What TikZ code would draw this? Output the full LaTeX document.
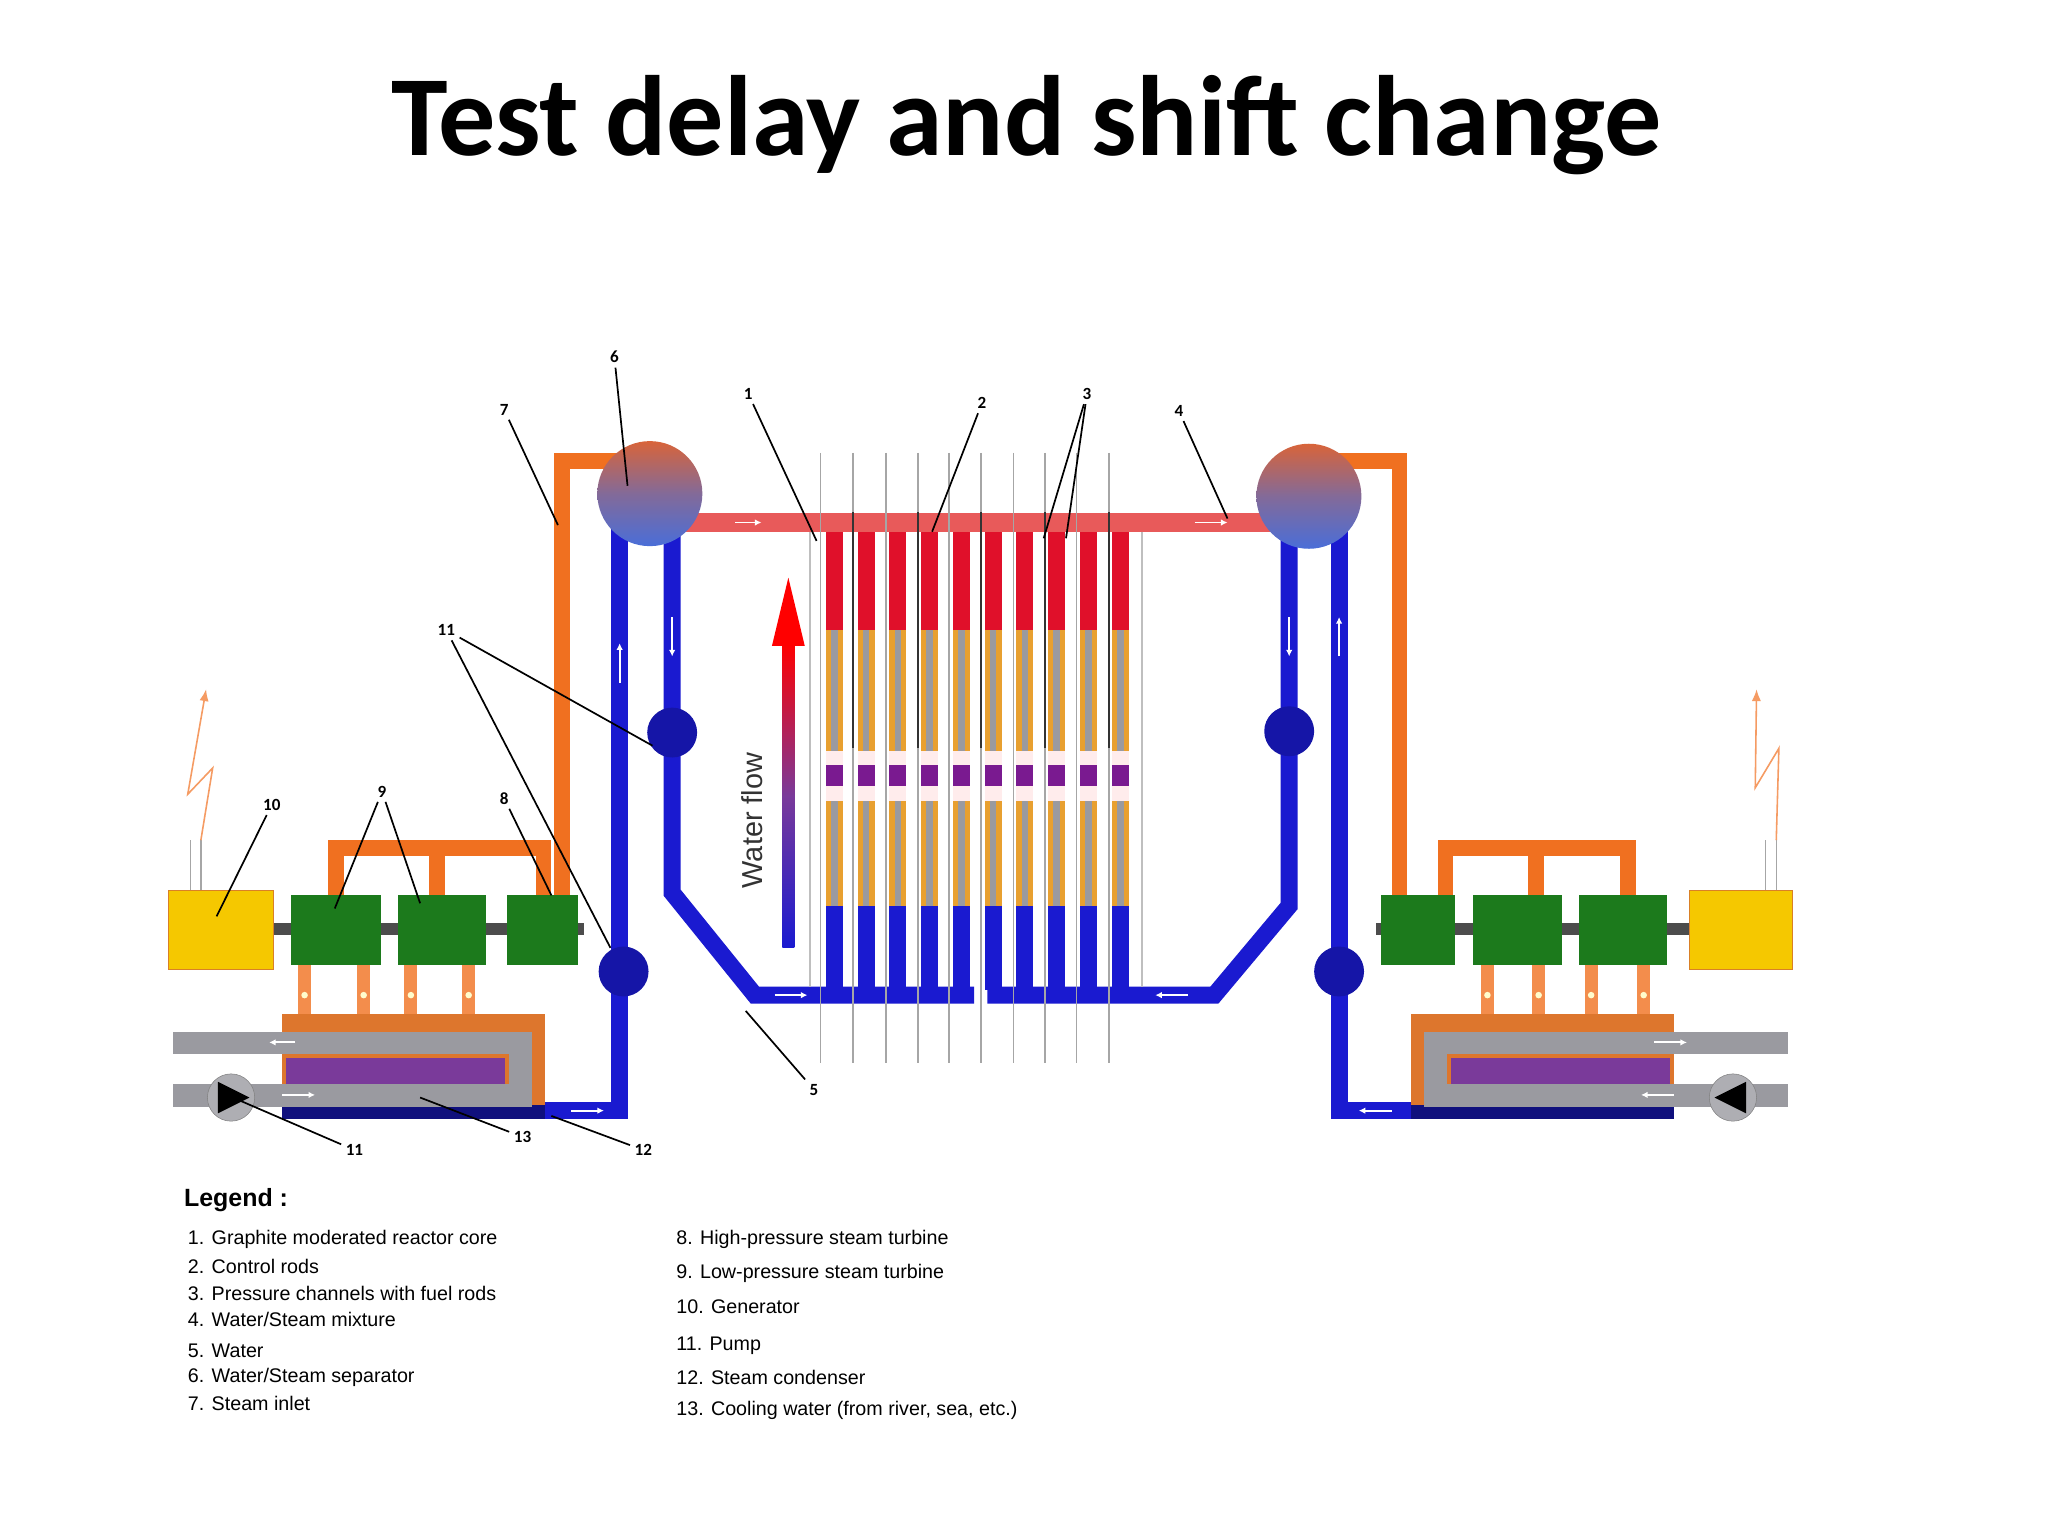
\documentclass[tikz,border=0pt]{standalone}
\usepackage{fontspec}
\setmainfont{Carlito}
\newfontfamily\lgd{Liberation Sans}
\usetikzlibrary{arrows.meta}
\definecolor{pblue}{HTML}{1A1AD0}
\definecolor{porange}{HTML}{F07020}
\definecolor{pred}{HTML}{E85A5A}
\definecolor{cred}{HTML}{E0102A}
\definecolor{cyel}{HTML}{E8A030}
\definecolor{cpur}{HTML}{7A1A90}
\definecolor{tgreen}{HTML}{1C7A1C}
\definecolor{gyel}{HTML}{F5C800}
\definecolor{cgrey}{HTML}{9A9AA0}
\definecolor{cpurple}{HTML}{7A3A9A}
\definecolor{drumtop}{HTML}{D8643A}
\definecolor{drumbot}{HTML}{4A6ED8}
\tikzset{
 bluepipe/.style={pblue,line width=13pt},
 orpipe/.style={porange,line width=12pt},
 lbl/.style={font=\bfseries\fontsize{13}{13}\selectfont},
 ll/.style={black,line width=1.3pt},
 turb/.style={fill=tgreen,draw=none},
 legtxt/.style={font=\lgd\fontsize{15}{15}\selectfont,anchor=west,inner sep=0},
 flow/.style={white,line width=1.5pt,-{Latex[length=5pt,width=5pt]}},
}
\begin{document}
\begin{tikzpicture}[x=1pt,y=-1pt]
\useasboundingbox[fill=white] (0,0) rectangle (1560,1170);
\node[font=\bfseries\fontsize{87}{87}\selectfont] (title) at (782,95) {Test delay and shift change};

% ---------- steam pipes (orange)
\draw[orpipe] (470,351) -- (428,351) -- (428,695);
\draw[orpipe] (1020,351) -- (1066,351) -- (1066,695);
\draw[orpipe] (256,695) -- (256,646) -- (414,646) -- (414,690);
\draw[orpipe] (333,646) -- (333,690);
\draw[orpipe] (1101,695) -- (1101,646) -- (1240,646) -- (1240,690);
\draw[orpipe] (1170,646) -- (1170,690);
% legs to condenser
\foreach \x in {232,277,313,357,1133,1172,1212,1252}
  \draw[porange!80,line width=10pt] (\x,735) -- (\x,776);
\foreach \x in {232,277,313,357,1133,1172,1212,1252}
  \fill[white!80!yellow] (\x,758) circle (2.5);

% ---------- top red pipe
\draw[pred,line width=14pt] (520,398) -- (975,398);
\draw[flow] (560,398) -- (580,398);
\draw[flow] (910,398) -- (935,398);

% ---------- blue pipes
\draw[bluepipe] (215,846) -- (472,846) -- (472,400);
\draw[bluepipe] (512,400) -- (512,680) -- (575,758) -- (742,758);
\draw[bluepipe] (752,758) -- (925,758) -- (982,690) -- (982,400);
\draw[bluepipe] (1078,846) -- (1020,846) -- (1020,400);
\draw[flow] (472,520) -- (472,490);
\draw[flow] (512,470) -- (512,500);
\draw[flow] (590,758) -- (615,758);
\draw[flow] (905,758) -- (880,758);
\draw[flow] (982,470) -- (982,500);
\draw[flow] (1020,500) -- (1020,470);
\draw[flow] (435,846) -- (460,846);
\draw[flow] (1060,846) -- (1035,846);
% pumps
\foreach \p in {(512,558),(475,740),(982,557),(1020,740)}
  \fill[pblue!80!black] \p circle (19);

% ---------- separator drums
\foreach \c in {(495,376),(997,378)}{
  \shade[top color=drumtop, bottom color=drumbot, middle color=drumbot!60!drumtop, draw=none] \c circle (40);
}
\node (sepL) at (495,376) {};
\node (sepR) at (997,378) {};

% ---------- core
\draw[gray!50,line width=1.5pt] (617,405) -- (617,752);
\draw[gray!50,line width=1.5pt] (870,405) -- (870,752);
\foreach \i in {0,...,9}{
  \pgfmathsetmacro{\x}{629+24.2*\i}
  \fill[cred] (\x,405) rectangle ++(13,75);
  \fill[cyel] (\x,480) rectangle ++(13,92);
  \fill[cgrey] (\x+4,480) rectangle ++(5,92);
  \fill[pink!30] (\x,572) rectangle ++(13,38);
  \fill[cpur] (\x,583) rectangle ++(13,16);
  \fill[cyel] (\x,610) rectangle ++(13,80);
  \fill[cgrey] (\x+4,610) rectangle ++(5,80);
  \fill[pblue] (\x,690) rectangle ++(13,64);
}
\foreach \x [count=\k] in {625,650,675,699,723,747,772,796,820,845}{
  \ifodd\k
    \draw[gray!70,line width=1.3pt] (\x,345) -- (\x,810);
  \else
    \draw[gray!70,line width=1.3pt] (\x,345) -- (\x,810);
    \draw[black!80,line width=1.3pt] (\x,390) -- (\x,570);
  \fi
}
% water flow arrow
\shade[bottom color=pblue, top color=red, middle color=cpurple] (596,490) rectangle (605,722);
\fill[red] (588,492) -- (613,492) -- (600.5,440) -- cycle;
\node[rotate=90,font=\lgd\fontsize{22}{22}\selectfont,text=black!80] (wf) at (573,625) {Water flow};

% ---------- turbines and generators
\fill[black!70] (205,703) rectangle (445,712);
\fill[black!70] (1048,703) rectangle (1290,712);
\fill[turb] (222,682) rectangle (290,735);
\fill[turb] (303,682) rectangle (370,735);
\fill[turb] (386,682) rectangle (440,735);
\fill[turb] (1052,682) rectangle (1108,735);
\fill[turb] (1122,682) rectangle (1190,735);
\fill[turb] (1203,682) rectangle (1270,735);
\fill[gyel,draw=orange!70!gray] (128,678) rectangle (208,738);
\fill[gyel,draw=orange!70!gray] (1287,678) rectangle (1365,738);
% antennas
\draw[gray!70,line width=1pt] (145,678) -- (145,640) (153,678) -- (153,640);
\draw[porange!70,line width=1.2pt,-{Latex[length=9pt,width=7pt]}] (153,640) -- (162,585) -- (143,605) -- (157,525);
\draw[gray!70,line width=1pt] (1345,678) -- (1345,640) (1353,678) -- (1353,640);
\draw[porange!70,line width=1.2pt,-{Latex[length=9pt,width=7pt]}] (1353,640) -- (1355,570) -- (1337,600) -- (1338,525);

% ---------- condensers
\fill[porange!60!brown] (215,772) rectangle (415,852);
\fill[pblue!60!black] (215,842) rectangle (415,852);
\fill[cgrey] (132,786) rectangle (405,803);
\fill[cgrey] (388,786) rectangle (405,843);
\fill[cgrey] (132,826) rectangle (405,843);
\fill[cpurple] (218,806) rectangle (385,826);
\draw[flow] (225,794) -- (205,794);
\draw[flow] (215,834) -- (240,834);
\fill[cgrey!80,draw=gray] (176,836) circle (18);
\fill[black] (166,824) -- (166,848) -- (190,836) -- cycle;

\fill[porange!60!brown] (1075,772) rectangle (1275,852);
\fill[pblue!60!black] (1075,842) rectangle (1275,852);
\fill[cgrey] (1085,786) rectangle (1362,803);
\fill[cgrey] (1085,786) rectangle (1102,843);
\fill[cgrey] (1085,826) rectangle (1362,843);
\fill[cpurple] (1105,806) rectangle (1272,826);
\draw[flow] (1260,794) -- (1285,794);
\draw[flow] (1275,834) -- (1250,834);
\fill[cgrey!80,draw=gray] (1320,836) circle (18);
\fill[black] (1330,824) -- (1330,848) -- (1306,836) -- cycle;

% ---------- numbered labels
\node[lbl] (n6) at (468,272) {6};  \draw[ll] (n6) -- (478,370);
\node[lbl] (n7) at (384,312) {7};  \draw[ll] (n7) -- (425,400);
\node[lbl] (n1) at (570,300) {1};  \draw[ll] (n1) -- (622,412);
\node[lbl] (n2) at (748,307) {2};  \draw[ll] (n2) -- (710,405);
\node[lbl] (n3) at (828,300) {3};  \draw[ll] (n3) -- (795,410); \draw[ll] (n3) -- (812,410);
\node[lbl] (n4) at (898,313) {4};  \draw[ll] (n4) -- (935,395);
\node[lbl] (n11a) at (340,480) {11}; \draw[ll] (n11a) -- (497,568); \draw[ll] (n11a) -- (465,722);
\node[lbl] (n10) at (207,613) {10}; \draw[ll] (n10) -- (165,698);
\node[lbl] (n9) at (291,603) {9};  \draw[ll] (n9) -- (255,692); \draw[ll] (n9) -- (320,688);
\node[lbl] (n8) at (384,608) {8};  \draw[ll] (n8) -- (420,682);
\node[lbl] (n5) at (620,830) {5};  \draw[ll] (n5) -- (568,770);
\node[lbl] (n11b) at (270,876) {11}; \draw[ll] (n11b) -- (182,838);
\node[lbl] (n13) at (398,866) {13}; \draw[ll] (n13) -- (320,836);
\node[lbl] (n12) at (490,876) {12}; \draw[ll] (n12) -- (420,850);

% ---------- legend
\node[legtxt,font=\lgd\bfseries\fontsize{19}{19}\selectfont] (lg) at (140,914) {Legend :};
\node[legtxt] (l1) at (143,944) {1. Graphite moderated reactor core};
\node[legtxt] (l2) at (143,965) {2. Control rods};
\node[legtxt] (l3) at (143,985) {3. Pressure channels with fuel rods};
\node[legtxt] (l4) at (143,1005) {4. Water/Steam mixture};
\node[legtxt] (l5) at (143,1029) {5. Water};
\node[legtxt] (l6) at (143,1049) {6. Water/Steam separator};
\node[legtxt] (l7) at (143,1069) {7. Steam inlet};
\node[legtxt] (l8) at (515,944) {8. High-pressure steam turbine};
\node[legtxt] (l9) at (515,970) {9. Low-pressure steam turbine};
\node[legtxt] (l10) at (515,995) {10. Generator};
\node[legtxt] (l11) at (515,1025) {11. Pump};
\node[legtxt] (l12) at (515,1049) {12. Steam condenser};
\node[legtxt] (l13) at (515,1074) {13. Cooling water (from river, sea, etc.)};
\end{tikzpicture}
\end{document}
